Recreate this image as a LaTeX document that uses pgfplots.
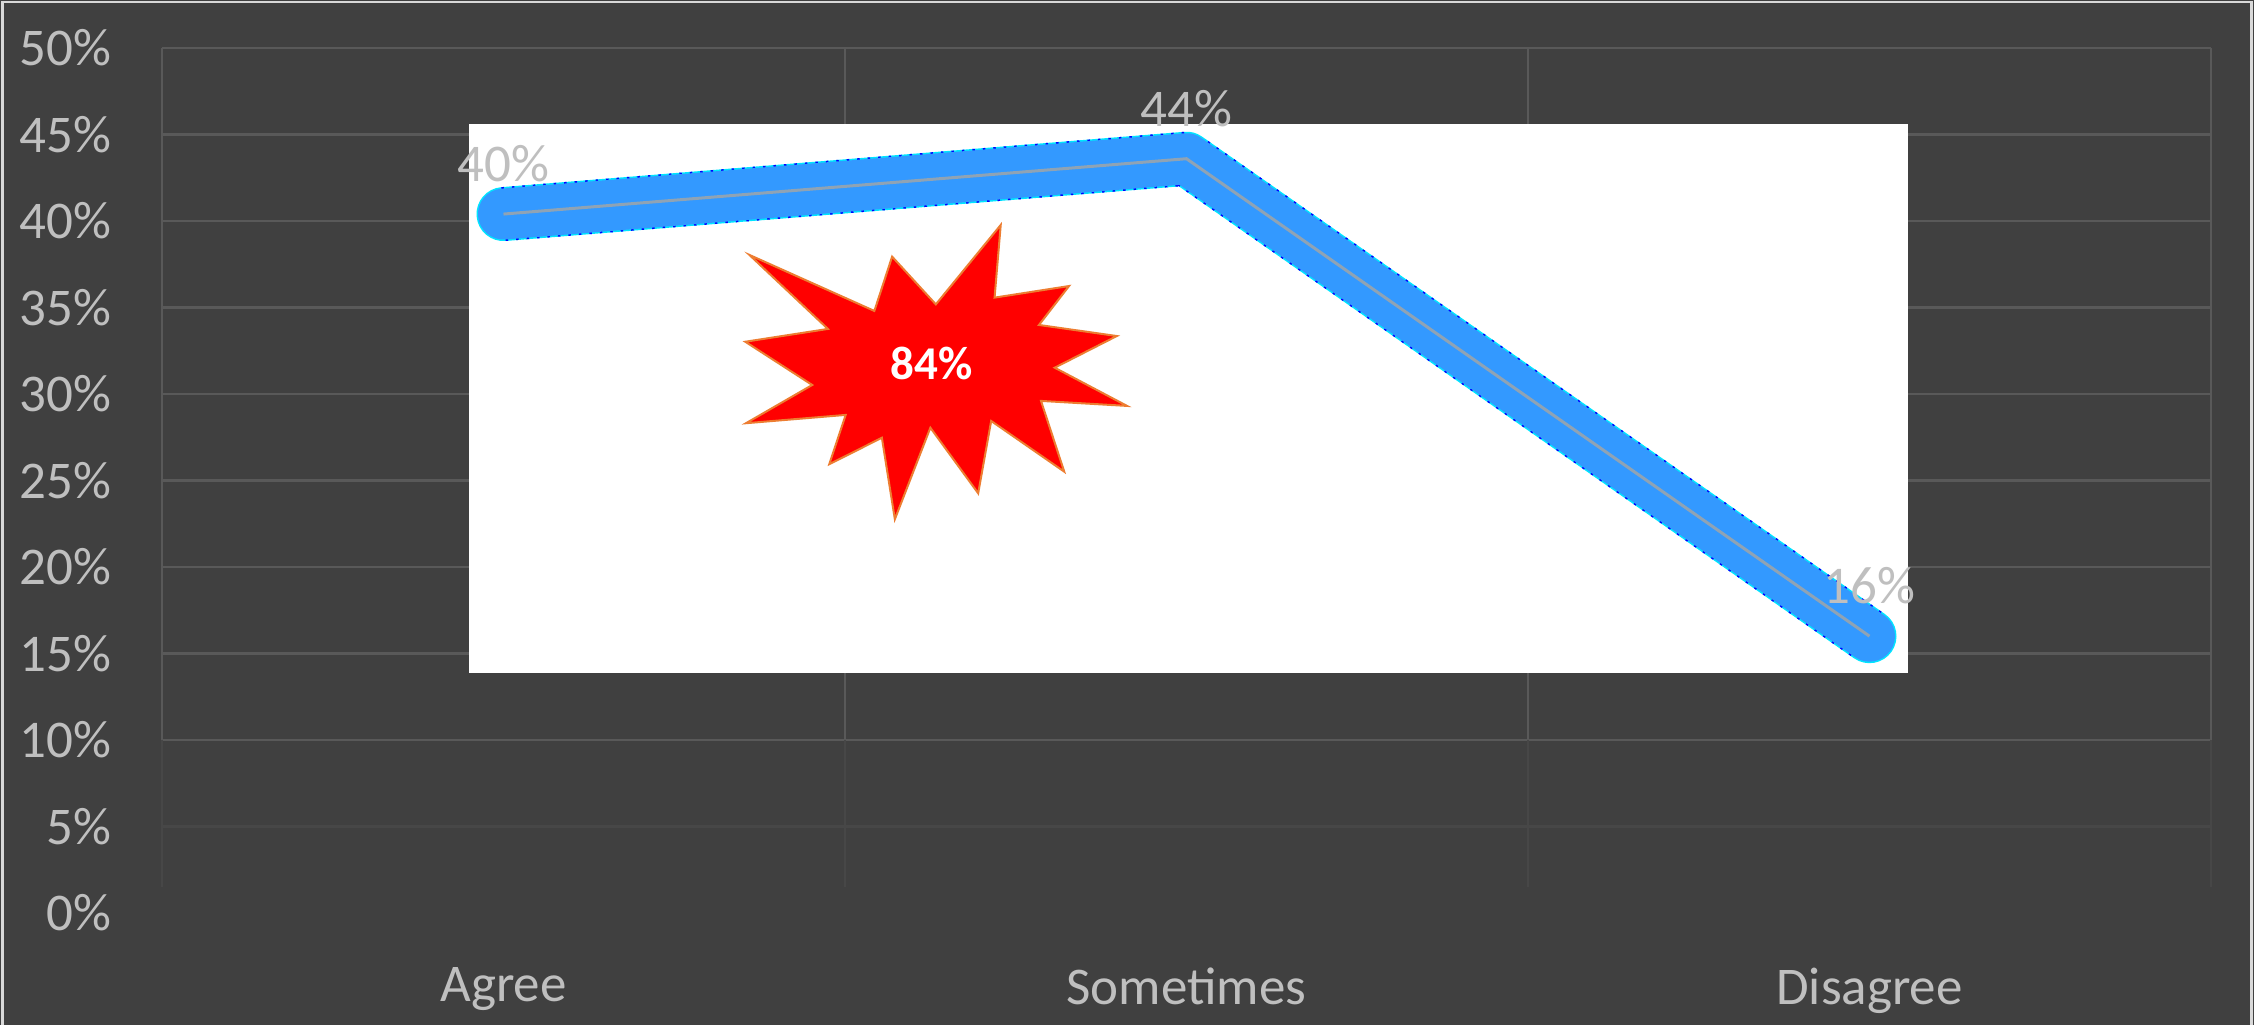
\documentclass[border=0pt]{standalone}
\usepackage{pgfplots}
\pgfplotsset{compat=1.18}
\usepackage{pgfplotstable}
\usepackage{fontspec}
\setmainfont{Carlito}
\definecolor{bg}{HTML}{404040}
\definecolor{gridc}{HTML}{595959}
\definecolor{gridf}{HTML}{474747}
\definecolor{txt}{HTML}{BFBFBF}
\definecolor{lineblue}{HTML}{3399FF}
\definecolor{edgecyan}{HTML}{00E5FF}
\definecolor{edgeblue}{HTML}{0000FF}
\definecolor{midgray}{HTML}{8FA3B5}
\definecolor{burst}{HTML}{FF0000}
\definecolor{burstedge}{HTML}{ED7D31}
\definecolor{frame}{HTML}{D9D9D9}

\pgfplotstableread{
x y lab
0 40.4 40
1 43.6 44
2 16.0 16
}\datatable

\begin{document}
\begin{tikzpicture}
\fill[bg] (0,0) rectangle (450.8pt,205pt);
\draw[frame, line width=0.5pt] (0.5pt,0pt) -- (0.5pt,204.6pt) -- (450.3pt,204.6pt) -- (450.3pt,0pt);
\begin{axis}[
  at={(32.4pt,22.4pt)}, anchor=south west,
  scale only axis, width=409.8pt, height=173pt,
  xmin=-0.5, xmax=2.5, ymin=0, ymax=50,
  axis line style={draw=none},
  major tick length=0pt,
  xtick={0,1,2}, xticklabels={Agree,Sometimes,Disagree},
  ytick={0,5,10,15,20,25,30,35,40,45,50},
  yticklabels={0\%,5\%,10\%,15\%,20\%,25\%,30\%,35\%,40\%,45\%,50\%},
  ticklabel style={font=\fontsize{10.6}{12}\selectfont, text=txt},
  yticklabel style={anchor=east, inner sep=0pt, xshift=-10pt},
  xticklabel style={anchor=north, inner sep=0pt, yshift=-10.8pt},
  clip=false,
]
% grid
\pgfplotsinvokeforeach{10,15,20,25,30,35,40,45,50}{
  \draw[gridc, line width=0.5pt] (axis cs:-0.5,#1) -- (axis cs:2.5,#1);
}
\draw[gridf, line width=0.5pt] (axis cs:-0.5,5) -- (axis cs:2.5,5);
\pgfplotsinvokeforeach{-0.5,0.5,1.5,2.5}{
  \draw[gridc, line width=0.5pt] (axis cs:#1,10) -- (axis cs:#1,50);
  \draw[gridf, line width=0.5pt] (axis cs:#1,1.5) -- (axis cs:#1,10);
}
% white panel
\fill[white] (axis cs:-0.051,13.9) rectangle (axis cs:2.056,45.6);
% line layers
\addplot[edgecyan, mark=none, line width=10.8pt, line cap=round, line join=round] table[x=x,y=y]{\datatable};
\addplot[edgeblue, mark=none, line width=10.8pt, dash pattern=on 0.5pt off 1.6pt, line join=round] table[x=x,y=y]{\datatable};
\addplot[lineblue, mark=none, line width=10.2pt, line cap=round, line join=round] table[x=x,y=y]{\datatable};
\addplot[midgray, mark=none, line width=0.6pt,
  point meta=explicit symbolic,
  nodes near coords={\pgfplotspointmeta\%},
  every node near coord/.style={anchor=base, inner sep=0pt, yshift=6.5pt, text=txt, font=\fontsize{10.6}{12}\selectfont}]
  table[x=x,y=y,meta=lab]{\datatable};
% starburst
\filldraw[fill=burst, draw=burstedge, line width=0.4pt, line join=miter]
 (axis cs:0.360,38.04) -- (axis cs:0.543,34.80) -- (axis cs:0.569,37.94) -- (axis cs:0.633,35.18)
 -- (axis cs:0.728,39.77) -- (axis cs:0.719,35.57) -- (axis cs:0.828,36.24) -- (axis cs:0.784,33.99)
 -- (axis cs:0.898,33.35) -- (axis cs:0.807,31.52) -- (axis cs:0.913,29.31) -- (axis cs:0.787,29.60)
 -- (axis cs:0.821,25.51) -- (axis cs:0.714,28.44) -- (axis cs:0.695,24.26) -- (axis cs:0.625,28.05)
 -- (axis cs:0.573,22.76) -- (axis cs:0.554,27.47) -- (axis cs:0.477,25.94) -- (axis cs:0.501,28.79)
 -- (axis cs:0.355,28.31) -- (axis cs:0.452,30.52) -- (axis cs:0.354,33.02) -- (axis cs:0.475,33.76) -- cycle;
\node[text=white, inner sep=0pt, font=\bfseries\fontsize{9.4}{11}\selectfont] at (axis cs:0.627,31.77) {84\%};
\end{axis}
\end{tikzpicture}
\end{document}
